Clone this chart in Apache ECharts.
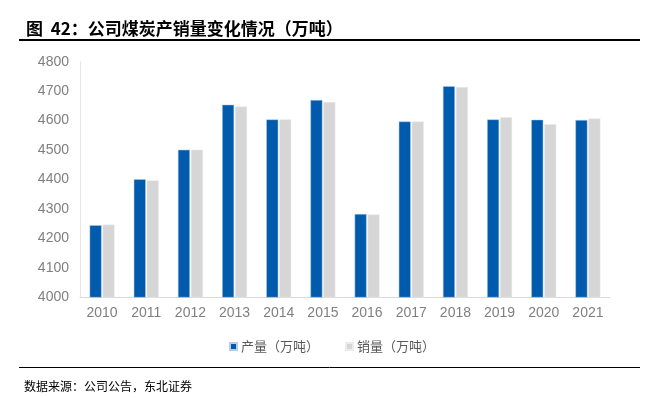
<!DOCTYPE html>
<html>
<head>
<meta charset="utf-8">
<script src="https://cdn.jsdelivr.net/npm/echarts@6/dist/echarts.min.js"></script>
<style>
  html, body { margin: 0; padding: 0; background: #fff; }
  #main { width: 648px; height: 398px; }
</style>
</head>
<body>
<div id="main"></div>
<script>
var years = ['2010','2011','2012','2013','2014','2015','2016','2017','2018','2019','2020','2021'];
// 产量（万吨）
var output = [4245, 4401, 4501, 4654, 4604, 4670, 4283, 4597, 4717, 4604, 4603, 4602];
// 销量（万吨）
var sales = [4247, 4397, 4501, 4648, 4604, 4663, 4281, 4597, 4714, 4611, 4588, 4607];
var yTicks = [4000, 4800, 100]; // min, max, interval

var myChart = echarts.init(document.getElementById('main'));

var option = {
    animation: false,
    title: [
        {
            text: '图  42：公司煤炭产销量变化情况（万吨）',
            left: 21,
            top: 15,
            textStyle: {
                fontFamily: 'Noto Sans CJK SC',
                fontSize: 17,
                fontWeight: 'bold',
                color: '#000'
            }
        },
        {
            text: '数据来源：公司公告，东北证券',
            left: 19,
            top: 375,
            textStyle: {
                fontFamily: 'Noto Sans CJK SC',
                fontSize: 12,
                fontWeight: 'normal',
                color: '#000'
            }
        }
    ],
    graphic: [
        { type: 'line', shape: { x1: 19, y1: 40, x2: 640, y2: 40 }, style: { stroke: '#000', lineWidth: 2 } },
        { type: 'line', shape: { x1: 19, y1: 367.5, x2: 640, y2: 367.5 }, style: { stroke: '#000', lineWidth: 1 } }
    ],
    legend: {
        data: ['产量（万吨）', '销量（万吨）'],
        top: 335,
        left: 224,
        itemWidth: 7,
        itemHeight: 7,
        itemGap: 26,
        icon: 'rect',
        textStyle: {
            fontFamily: 'Noto Sans CJK SC',
            fontSize: 13,
            color: '#595959',
            padding: [0, 0, 0, -1]
        }
    },
    grid: {
        left: 80,
        right: 38,
        top: 61.7,
        bottom: 100.7,
        containLabel: false
    },
    xAxis: {
        type: 'category',
        data: years,
        axisLine: { lineStyle: { color: '#D9D9D9', width: 1 } },
        axisTick: { show: false },
        axisLabel: {
            color: '#7F7F7F',
            fontSize: 14,
            fontFamily: 'Liberation Sans',
            margin: 9
        }
    },
    yAxis: {
        type: 'value',
        min: yTicks[0],
        max: yTicks[1],
        interval: yTicks[2],
        axisLine: { show: true, lineStyle: { color: '#E6E6E6', width: 1 } },
        axisTick: { show: false },
        splitLine: { show: false },
        axisLabel: {
            color: '#7F7F7F',
            fontSize: 14,
            fontFamily: 'Liberation Sans',
            margin: 11,
            formatter: function (v) { return String(v); }
        }
    },
    series: [
        {
            name: '产量（万吨）',
            type: 'bar',
            data: output,
            barWidth: 12,
            barGap: '8%',
            itemStyle: { color: '#005BAC', borderColor: '#B7CCE6', borderWidth: 0.5 }
        },
        {
            name: '销量（万吨）',
            type: 'bar',
            data: sales,
            barWidth: 12,
            itemStyle: { color: '#D6D6D6', borderColor: '#EBEBEB', borderWidth: 0.5 }
        }
    ]
};

myChart.setOption(option);
</script>
</body>
</html>
